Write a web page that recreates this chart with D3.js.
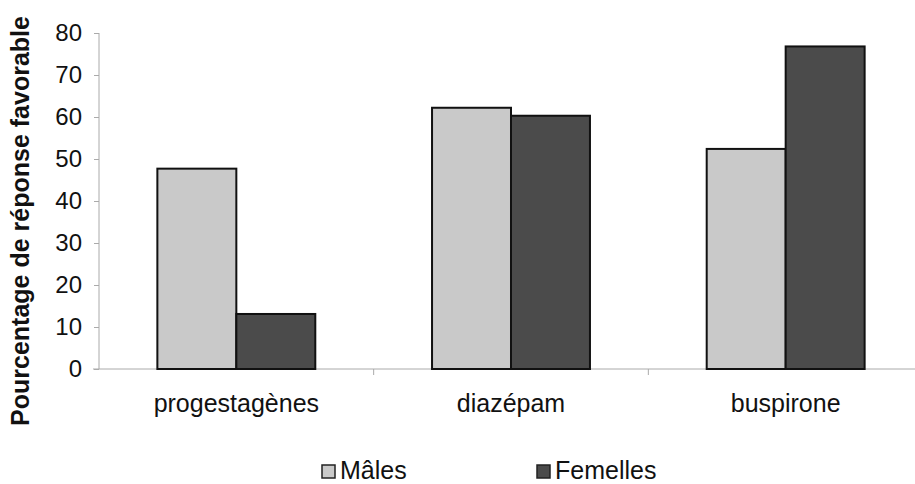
<!DOCTYPE html>
<html>
<head>
<meta charset="utf-8">
<script src="https://cdn.jsdelivr.net/npm/d3@7"></script>
<style>
  body { margin: 0; background: #fff; }
  text { font-family: "Liberation Sans", Arial, sans-serif; fill: #111; }
  .axis path, .axis line { stroke: #aaa; }
</style>
</head>
<body>
<svg id="graph" width="915" height="484"></svg>
<script>
var categories = ["progestagènes", "diazépam", "buspirone"]
var series = ["Mâles", "Femelles"]
var males = [47.7, 62.2, 52.4]
var femelles = [13.1, 60.3, 76.8]
var yTicks = [0, 10, 20, 30, 40, 50, 60, 70, 80]
var colors = ["#c9c9c9", "#4b4b4b"]

var margin = { top: 33, left: 99, right: -8 }
var width = 915 - margin.left - margin.right
var height = 369 - margin.top

var svg = d3.select("#graph").append("g")
    .attr("transform", "translate(" + margin.left + "," + margin.top + ")")

var x0 = d3.scaleBand().domain(categories).range([0, width])
var groupW = x0.bandwidth() * 0.575
var x1 = d3.scaleBand().domain(series)
    .range([(x0.bandwidth() - groupW) / 2, (x0.bandwidth() + groupW) / 2])
var y = d3.scaleLinear().domain([0, 80]).range([height, 0])

var rows = categories.map((c, i) => ({ cat: c, vals: [males[i], femelles[i]] }))

// y axis
var yAxis = svg.append("g").attr("class", "axis")
    .call(d3.axisLeft(y).tickValues(yTicks).tickSize(5).tickPadding(12))
yAxis.select(".domain").attr("d", "M0,0V" + height)
yAxis.selectAll("text").style("font-size", "24px")

// x axis
var xAxis = svg.append("g").attr("class", "axis")
    .attr("transform", "translate(0," + height + ")")
    .call(d3.axisBottom(x0).tickSize(0).tickPadding(25))
xAxis.select(".domain").attr("d", "M-6,0H" + width)
xAxis.selectAll("text").style("font-size", "25px")
xAxis.selectAll(".sep")
    .data(categories.slice(1))
    .enter().append("line")
    .attr("x1", d => x0(d)).attr("x2", d => x0(d))
    .attr("y1", 0).attr("y2", 6)
    .attr("stroke", "#aaa")

// bars
var groups = svg.selectAll(".grp")
    .data(rows)
    .enter().append("g")
    .attr("transform", d => "translate(" + x0(d.cat) + ",0)")

groups.selectAll("rect")
    .data(d => d.vals.map((v, i) => ({ s: series[i], v: v, i: i })))
    .enter().append("rect")
    .attr("x", d => x1(d.s))
    .attr("width", x1.bandwidth())
    .attr("y", d => y(d.v))
    .attr("height", d => y(0) - y(d.v))
    .attr("fill", d => colors[d.i])
    .attr("stroke", "#111")
    .attr("stroke-width", 2)

// y label
d3.select("#graph").append("text")
    .attr("transform", "translate(29,221) rotate(-90)")
    .attr("text-anchor", "middle")
    .style("font-size", "25px")
    .style("font-weight", "bold")
    .text("Pourcentage de réponse favorable")

// legend
var legX = [322, 537]
var leg = d3.select("#graph").selectAll(".leg")
    .data(series)
    .enter().append("g")
    .attr("transform", (d, i) => "translate(" + legX[i] + ",465)")
leg.append("rect")
    .attr("width", 13).attr("height", 13)
    .attr("fill", (d, i) => colors[i])
    .attr("stroke", "#222").attr("stroke-width", 1.5)
leg.append("text")
    .attr("x", 18).attr("y", 14)
    .style("font-size", "25px")
    .text(d => d)
</script>
</body>
</html>
